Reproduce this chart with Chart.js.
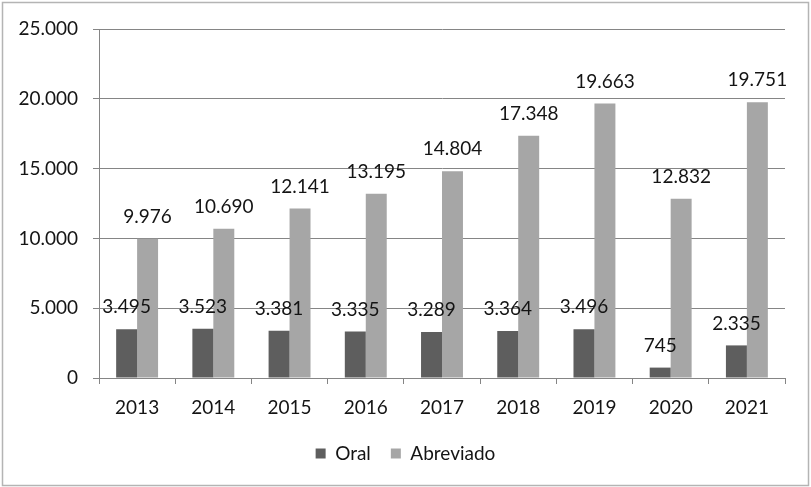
<!DOCTYPE html>
<html>
<head>
<meta charset="utf-8">
<script src="https://cdn.jsdelivr.net/npm/chart.js@4.4.1/dist/chart.umd.min.js"></script>
<style>
    html, body { margin: 0; padding: 0; background: #ffffff; }
    #wrap { width: 811px; height: 487px; }
</style>
</head>
<body>
<div id="wrap"><canvas id="casosChart" width="811" height="487"></canvas></div>
<script>
// years and number of cases per procedure type
const years = ['2013', '2014', '2015', '2016', '2017', '2018', '2019', '2020', '2021'];
const oral = [3495, 3523, 3381, 3335, 3289, 3364, 3496, 745, 2335];
const abreviado = [9976, 10690, 12141, 13195, 14804, 17348, 19663, 12832, 19751];
const yTicks = [0, 5000, 10000, 15000, 20000, 25000];

const FONT = 'Lato, "Liberation Sans", sans-serif';
const GRID = '#858585';
const TEXT = '#141414';

// thousands with a dot, also for 4 digit numbers
function fmt(n) {
    return String(n).replace(/\B(?=(\d{3})+(?!\d))/g, '.');
}

// value labels above each bar
const barLabels = {
    id: 'barLabels',
    afterDatasetsDraw(chart) {
        const ctx = chart.ctx;
        ctx.save();
        ctx.font = '19px ' + FONT;
        ctx.fillStyle = TEXT;
        ctx.textAlign = 'center';
        ctx.textBaseline = 'middle';
        chart.data.datasets.forEach((ds, di) => {
            chart.getDatasetMeta(di).data.forEach((bar, i) => {
                ctx.fillText(fmt(ds.data[i]), bar.x, bar.y - 22);
            });
        });
        ctx.restore();
    }
};

// thin frame round the whole chart
const frame = {
    id: 'frame',
    beforeDraw(chart) {
        const ctx = chart.ctx;
        ctx.save();
        ctx.strokeStyle = '#b4b4b4';
        ctx.lineWidth = 1.5;
        ctx.strokeRect(2.5, 2.5, chart.width - 5, chart.height - 4);
        ctx.restore();
    }
};

new Chart(document.getElementById('casosChart'), {
    type: 'bar',
    data: {
        labels: years,
        datasets: [
            { label: 'Oral', data: oral, backgroundColor: '#5e5e5e' },
            { label: 'Abreviado', data: abreviado, backgroundColor: '#a6a6a6' }
        ]
    },
    plugins: [frame, barLabels],
    options: {
        responsive: false,
        animation: false,
        devicePixelRatio: 1,
        layout: { padding: { left: 13, right: 13, top: 29, bottom: 14 } },
        datasets: { bar: { categoryPercentage: 0.55, barPercentage: 1.0 } },
        plugins: {
            legend: {
                position: 'bottom',
                labels: {
                    boxWidth: 10,
                    boxHeight: 10,
                    padding: 20,
                    color: TEXT,
                    font: { family: FONT, size: 19 }
                }
            },
            tooltip: { enabled: false }
        },
        scales: {
            x: {
                grid: { drawOnChartArea: false, drawTicks: true, tickLength: 6, color: GRID },
                border: { display: true, color: GRID, width: 1 },
                ticks: { color: TEXT, padding: 12, font: { family: FONT, size: 19 } },
                afterFit: s => { s.height = 46; }
            },
            y: {
                min: 0,
                max: 25000,
                afterBuildTicks: s => { s.ticks = yTicks.map(v => ({ value: v })); },
                grid: { color: GRID, tickLength: 6 },
                border: { display: true, color: GRID, width: 1 },
                ticks: {
                    color: TEXT,
                    padding: 15,
                    font: { family: FONT, size: 19 },
                    callback: v => fmt(v)
                },
                afterFit: s => { s.width = 86; }
            },
            spacer: {
                position: 'right',
                display: true,
                grid: { display: false },
                border: { display: false },
                ticks: { display: false },
                afterFit: s => { s.width = 13; }
            }
        }
    }
});
</script>
</body>
</html>
